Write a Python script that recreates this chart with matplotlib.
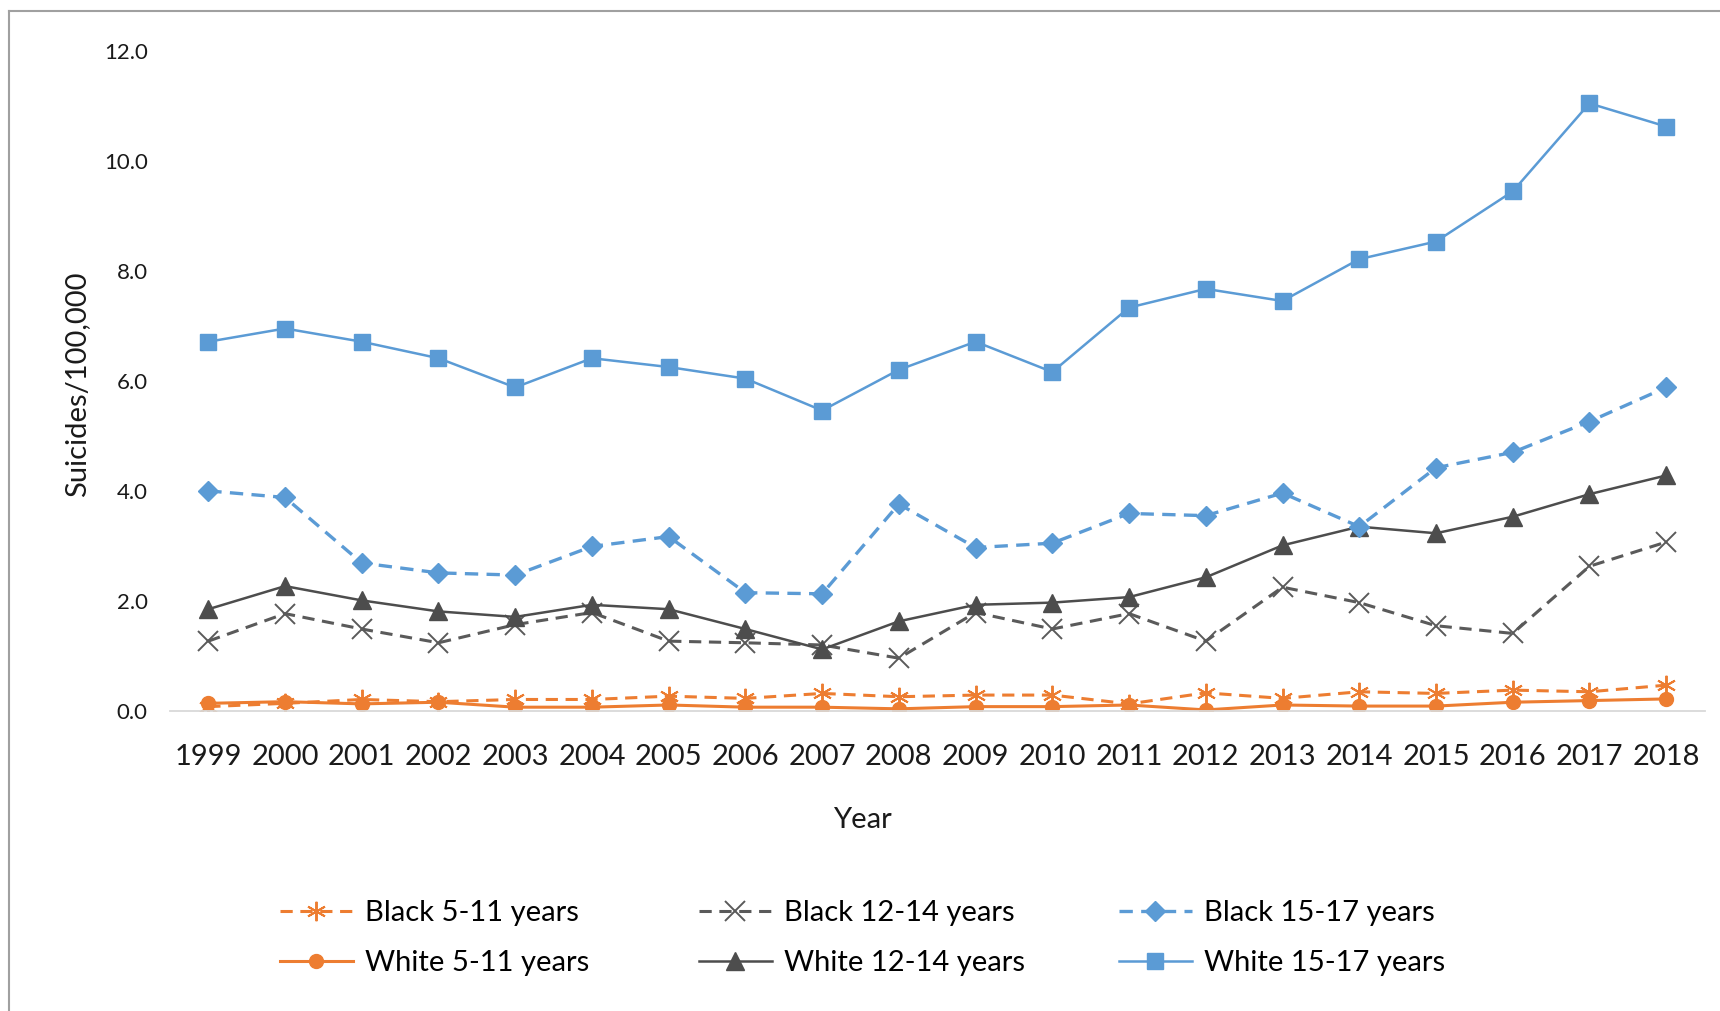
import numpy as np
import matplotlib
matplotlib.use("Agg")
import matplotlib.pyplot as plt
from matplotlib.lines import Line2D

plt.rcParams['font.family'] = ['Lato', 'DejaVu Sans']

years = [str(y) for y in range(1999, 2019)]

black_5_11 = [0.08, 0.14, 0.21, 0.17, 0.21, 0.21, 0.27, 0.23, 0.32, 0.26,
              0.29, 0.29, 0.13, 0.33, 0.23, 0.35, 0.32, 0.38, 0.35, 0.47]
white_5_11 = [0.14, 0.17, 0.13, 0.16, 0.07, 0.07, 0.11, 0.07, 0.07, 0.04,
              0.08, 0.08, 0.11, 0.02, 0.11, 0.09, 0.09, 0.16, 0.19, 0.22]
black_12_14 = [1.27, 1.77, 1.49, 1.24, 1.57, 1.79, 1.27, 1.24, 1.20, 0.96,
               1.79, 1.49, 1.77, 1.27, 2.25, 1.97, 1.55, 1.41, 2.63, 3.07]
white_12_14 = [1.85, 2.27, 2.01, 1.81, 1.71, 1.93, 1.85, 1.49, 1.12, 1.63,
               1.93, 1.97, 2.07, 2.43, 3.01, 3.35, 3.23, 3.53, 3.94, 4.28]
black_15_17 = [4.00, 3.88, 2.69, 2.51, 2.47, 2.99, 3.17, 2.15, 2.13, 3.76,
               2.97, 3.05, 3.59, 3.55, 3.96, 3.35, 4.42, 4.70, 5.26, 5.88]
white_15_17 = [6.71, 6.95, 6.71, 6.41, 5.88, 6.41, 6.25, 6.04, 5.46, 6.20,
               6.71, 6.16, 7.33, 7.67, 7.45, 8.21, 8.53, 9.44, 11.04, 10.62]

orange = '#ED7D31'
blue = '#5B9BD5'
dgray = '#4D4D4D'
mgray = '#5A5A5A'
txt = '#1a1a1a'
fs = 21

fig = plt.figure(figsize=(17.2, 10.11), dpi=100)
ax = fig.add_axes([0.0988, 0.2967, 0.8922, 0.6533])

x = np.arange(len(years))

h_b5, = ax.plot(x, black_5_11, ls=(0, (4, 2.5)), color=orange, lw=2.2,
                marker=(6, 2, 0), ms=14, mew=1.4, mec=orange, label='Black 5-11 years')
h_w5, = ax.plot(x, white_5_11, ls='-', color=orange, lw=2.2,
                marker='o', ms=10, mfc=orange, mec=orange, label='White 5-11 years')
h_b12, = ax.plot(x, black_12_14, ls=(0, (4, 2.5)), color=mgray, lw=2.2,
                 marker='x', ms=14, mew=1.4, mec=mgray, label='Black 12-14 years')
h_w12, = ax.plot(x, white_12_14, ls='-', color=dgray, lw=1.8,
                 marker='^', ms=13, mfc=dgray, mec=dgray, label='White 12-14 years')
h_b15, = ax.plot(x, black_15_17, ls=(0, (4, 2.5)), color=blue, lw=2.4,
                 marker='D', ms=10, mfc=blue, mec=blue, label='Black 15-17 years')
h_w15, = ax.plot(x, white_15_17, ls='-', color=blue, lw=1.8,
                 marker='s', ms=12, mfc=blue, mec=blue, label='White 15-17 years')

ax.set_xlim(-0.5, len(years) - 0.5)
ax.set_ylim(0, 12)
ax.set_xticks(x)
ax.set_xticklabels(years, fontsize=fs, color=txt)
yt = np.arange(0, 12.1, 2)
ax.set_yticks(yt)
ax.set_yticklabels(['%.1f' % v for v in yt], fontsize=16, color=txt)
ax.tick_params(axis='both', length=0)
ax.tick_params(axis='x', pad=24)
ax.tick_params(axis='y', pad=16)

for s in ['top', 'right', 'left']:
    ax.spines[s].set_visible(False)
ax.spines['bottom'].set_color('#D9D9D9')
ax.spines['bottom'].set_linewidth(1.3)

ax.set_xlabel('Year', fontsize=fs, color=txt)
ax.xaxis.set_label_coords(0.451, -0.145)
ax.set_ylabel('Suicides/100,000', fontsize=fs, color=txt, va='center')
ax.yaxis.set_label_coords(-0.0606, 0.495)

# one legend per column so the columns sit where they do in the original
cols = [(h_b5, h_w5), (h_b12, h_w12), (h_b15, h_w15)]
col_x = [280, 699, 1119]
for hs, cx in zip(cols, col_x):
    lg = fig.legend(handles=list(hs), labels=[h.get_label() for h in hs],
                    loc='upper left', bbox_to_anchor=(cx / 1720, 0.1093),
                    frameon=False, fontsize=fs, handlelength=2.5,
                    labelspacing=0.82, handletextpad=0.4, borderpad=0,
                    borderaxespad=0)

# chart frame (top and left only, as in the crop)
fig.add_artist(Line2D([0.0052, 1.0], [0.989, 0.989], transform=fig.transFigure,
                      color='#A0A0A0', lw=1.5))
fig.add_artist(Line2D([0.0052, 0.0052], [0.0, 0.989], transform=fig.transFigure,
                      color='#A0A0A0', lw=1.5))

fig.savefig('out.png', dpi=100)
